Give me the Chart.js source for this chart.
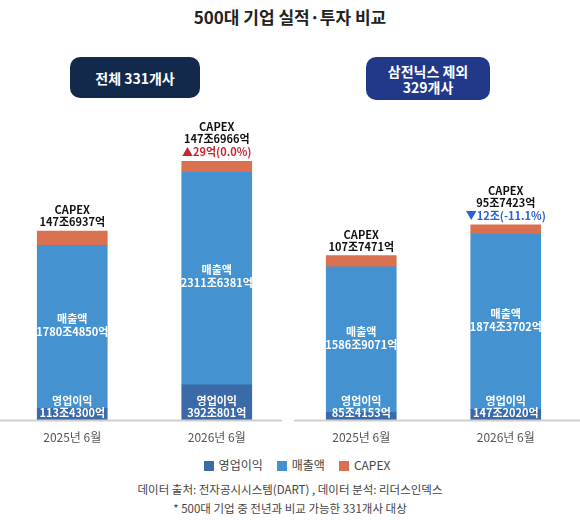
<!DOCTYPE html>
<html><head><meta charset="utf-8">
<script src="https://cdn.jsdelivr.net/npm/chart.js@4/dist/chart.umd.min.js"></script>
<style>
body{margin:0;width:580px;height:520px;background:#fff;font-family:"Noto Sans CJK KR","Noto Sans",sans-serif;position:relative;overflow:hidden}
.title{position:absolute;top:4px;width:100%;text-align:center;font-size:17px;font-weight:bold;color:#222}
.pill{position:absolute;color:#fff;font-weight:bold;font-size:14px;text-align:center;border-radius:10px;display:flex;align-items:center;justify-content:center;line-height:16px}
.wrap{position:absolute;left:0;top:110px;width:580px;height:337px}
.legend{position:absolute;top:456px;width:100%;text-align:center;font-size:12px;color:#444}
.legend span.b{display:inline-block;width:10px;height:10px;margin:0 5px 0 14px;vertical-align:-1px}
.foot{position:absolute;width:100%;text-align:center;font-size:11.5px;color:#444}
</style></head>
<body>
<div class="title">500대 기업 실적·투자 비교</div>
<div class="pill" style="left:70px;top:57px;width:130px;height:41px;background:#13294b">전체 331개사</div>
<div class="pill" style="left:366px;top:57px;width:124px;height:43px;background:#22398a">삼전닉스 제외<br>329개사</div>
<div class="wrap"><canvas id="chart"></canvas></div>
<div class="legend"><span class="b" style="background:#3a6aa8"></span>영업이익<span class="b" style="background:#4592d0"></span>매출액<span class="b" style="background:#d9704f"></span>CAPEX</div>
<div class="foot" style="top:481px">데이터 출처: 전자공시시스템(DART) , 데이터 분석: 리더스인덱스</div>
<div class="foot" style="top:500px">* 500대 기업 중 전년과 비교 가능한 331개사 대상</div>
<script>
// Categories
const periods = ['2025년 6월', '2026년 6월', '2025년 6월', '2026년 6월'];

// segment heights as drawn in the picture (not to scale with the amounts)
const opProfit = [12, 35, 8, 11];
const sales = [159, 208, 142, 171];
const capex = [14, 10, 11, 9];

// amounts printed on the bars
const opLabels = ['113조4300억', '392조801억', '85조4153억', '147조2020억'];
const salesLabels = ['1780조4850억', '2311조6381억', '1586조9071억', '1874조3702억'];
const capexLabels = ['147조6937억', '147조6966억', '107조7471억', '95조7423억'];
const capexChange = ['', '▲29억(0.0%)', '', '▼12조(-11.1%)'];
const changeColors = ['', '#c62832', '', '#2a62d6'];

// textes sur les barres + ligne de base coupée en deux
const barText = {
    id: 'barText',
    afterDatasetsDraw(chart) {
        const ctx = chart.ctx;
        const base = chart.scales.y.getPixelForValue(0);
        ctx.save();
        ctx.strokeStyle = '#cfcfcf';
        ctx.lineWidth = 2;
        ctx.beginPath();
        ctx.moveTo(0, base); ctx.lineTo(282, base);
        ctx.moveTo(294, base); ctx.lineTo(580, base);
        ctx.stroke();

        ctx.textAlign = 'center';
        ctx.font = 'bold 11px "Noto Sans CJK KR"';
        const op = chart.getDatasetMeta(0).data;
        const sl = chart.getDatasetMeta(1).data;
        const cp = chart.getDatasetMeta(2).data;
        periods.forEach((p, i) => {
            const x = op[i].x;
            ctx.fillStyle = '#fff';
            ctx.fillText('영업이익', x, base - 16);
            ctx.fillText(opLabels[i], x, base - 4);
            const mid = (sl[i].y + sl[i].base) / 2;
            ctx.fillText('매출액', x, mid - 4);
            ctx.fillText(salesLabels[i], x, mid + 9);
            let top = cp[i].y - 5;
            if (capexChange[i]) {
                ctx.fillStyle = changeColors[i];
                ctx.fillText(capexChange[i], x, top);
                top -= 13;
            }
            ctx.fillStyle = '#111';
            ctx.fillText(capexLabels[i], x, top);
            ctx.fillText('CAPEX', x, top - 12);
        });
        ctx.restore();
    }
};

let chart = new Chart(document.getElementById('chart'), {
    type: 'bar',
    data: {
        labels: periods,
        datasets: [
            { label: '영업이익', data: opProfit, backgroundColor: '#3a6aa8' },
            { label: '매출액', data: sales, backgroundColor: '#4592d0' },
            { label: 'CAPEX', data: capex, backgroundColor: '#d9704f' }
        ]
    },
    options: {
        responsive: true,
        maintainAspectRatio: false,
        animation: false,
        layout: { padding: { left: -10, right: 2 } },
        plugins: { legend: { display: false }, tooltip: { enabled: false } },
        datasets: { bar: { barThickness: 70 } },
        scales: {
            x: {
                stacked: true,
                grid: { display: false },
                border: { display: false },
                ticks: { color: '#555', font: { size: 12, family: 'Noto Sans CJK KR' }, padding: 2 }
            },
            y: { stacked: true, display: false, min: 0, max: 303 }
        }
    },
    plugins: [barText]
});
</script>
</body></html>
